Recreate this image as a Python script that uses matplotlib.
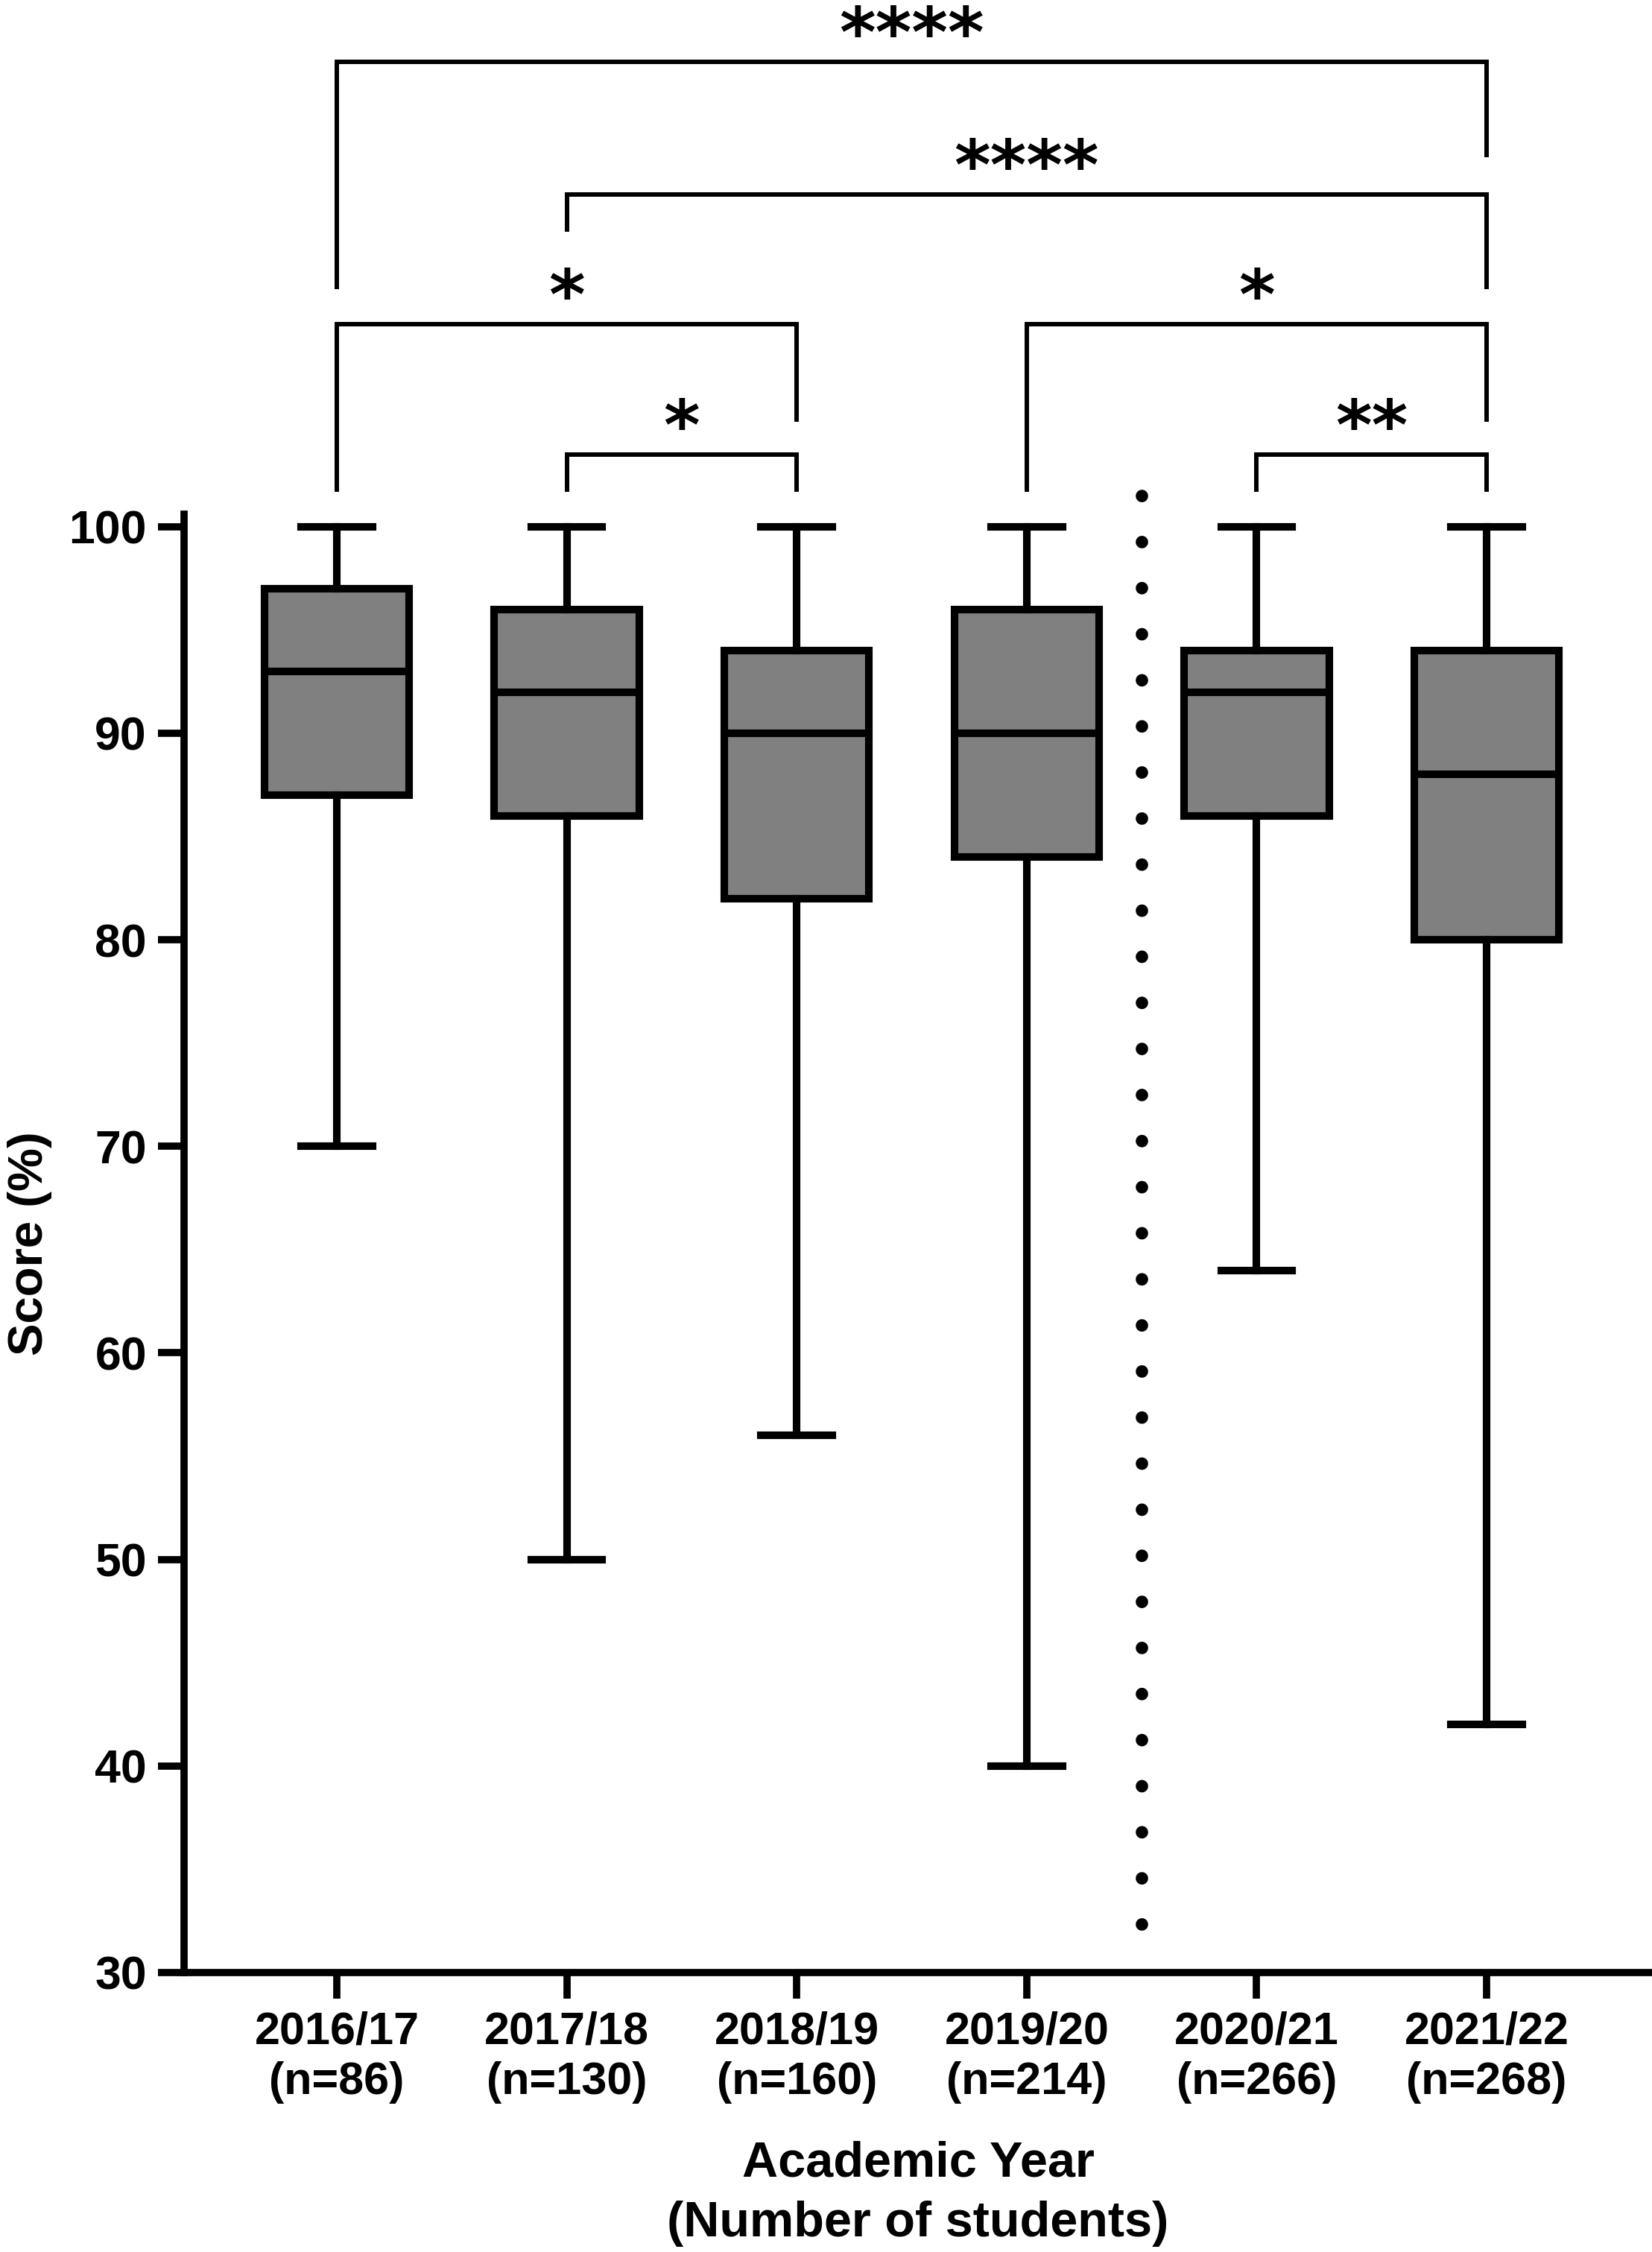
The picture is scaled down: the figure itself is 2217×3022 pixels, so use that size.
import matplotlib
matplotlib.use("Agg")
import matplotlib.pyplot as plt

plt.rcParams['font.family'] = ['Liberation Sans', 'DejaVu Sans']

# box plot summary per academic year
years = ['2016/17', '2017/18', '2018/19', '2019/20', '2020/21', '2021/22']
n_students = [86, 130, 160, 214, 266, 268]
score_min = [70, 50, 56, 40, 64, 42]
score_q1 = [87, 86, 82, 84, 86, 80]
score_med = [93, 92, 90, 90, 92, 88]
score_q3 = [97, 96, 94, 96, 94, 94]
score_max = [100, 100, 100, 100, 100, 100]

# significance comparisons (group index a, group index b, label)
comp_a = [0, 1, 0, 3, 1, 4]
comp_b = [5, 5, 2, 5, 2, 5]
comp_lab = ['****', '****', '*', '*', '*', '**']

# bracket layout: bar height, bottom of left leg, bottom of right leg
br_y = [122.5, 116.1, 109.8, 109.8, 103.5, 103.5]
br_left = [111.6, 114.4, 101.8, 101.8, 101.8, 101.8]
br_right = [118.0, 111.6, 105.2, 105.2, 101.8, 101.8]

pos = list(range(1, len(years) + 1))
stats = []
for i in range(len(years)):
    stats.append(dict(whislo=score_min[i], q1=score_q1[i], med=score_med[i],
                      q3=score_q3[i], whishi=score_max[i], fliers=[]))

fig = plt.figure(figsize=(22.17, 30.22), dpi=100)
ax = fig.add_axes([0.1114, 0.1241, 0.8886, 0.6476])

lw = 7.3
ax.bxp(stats, positions=pos, widths=0.63, capwidths=0.31, showfliers=False,
       patch_artist=True,
       boxprops=dict(facecolor='#808080', edgecolor='black', linewidth=lw),
       medianprops=dict(color='black', linewidth=lw, solid_capstyle='butt'),
       whiskerprops=dict(color='black', linewidth=lw),
       capprops=dict(color='black', linewidth=lw))

ax.set_xlim(0.3357, 6.719)
ax.set_ylim(30, 100.61)

# dotted divider between 2019/20 and 2020/21
ax.plot([4.5, 4.5], [101.5, 31.6], color='black', lw=12,
        linestyle=(0, (0.01, 3.7)), dash_capstyle='round', clip_on=False)

# significance brackets
blw = 4.3
for a, b, lab, y, yl, yr in zip(comp_a, comp_b, comp_lab, br_y, br_left, br_right):
    xa, xb = pos[a], pos[b]
    ax.plot([xa, xa, xb, xb], [yl, y, y, yr], color='black', lw=blw,
            solid_joinstyle='miter', clip_on=False)
    ax.text((xa + xb) / 2, y + 0.25, lab, ha='center', va='baseline',
            fontsize=67, family='DejaVu Sans', fontweight='bold', clip_on=False)

for s in ['top', 'right']:
    ax.spines[s].set_visible(False)
for s in ['left', 'bottom']:
    ax.spines[s].set_linewidth(7)

ax.set_yticks([30, 40, 50, 60, 70, 80, 90, 100])
ax.set_xticks(pos)
ax.set_xticklabels([y + '\n(n=' + str(n) + ')' for y, n in zip(years, n_students)],
                   fontsize=44, fontweight='bold', linespacing=1.25)
for t in ax.get_yticklabels():
    t.set_fontsize(45)
    t.set_fontweight('bold')
ax.tick_params(axis='both', width=7, length=25, direction='out')
ax.tick_params(axis='x', pad=12)
ax.tick_params(axis='y', pad=11)

ax.set_ylabel('Score (%)', fontsize=47, fontweight='bold')
ax.yaxis.set_label_coords(-0.090, 0.5)
ax.set_xlabel('Academic Year\n(Number of students)', fontsize=48, fontweight='bold',
              linespacing=1.4)
ax.xaxis.set_label_coords(0.5, -0.115)

fig.savefig('out.png', dpi=100)
